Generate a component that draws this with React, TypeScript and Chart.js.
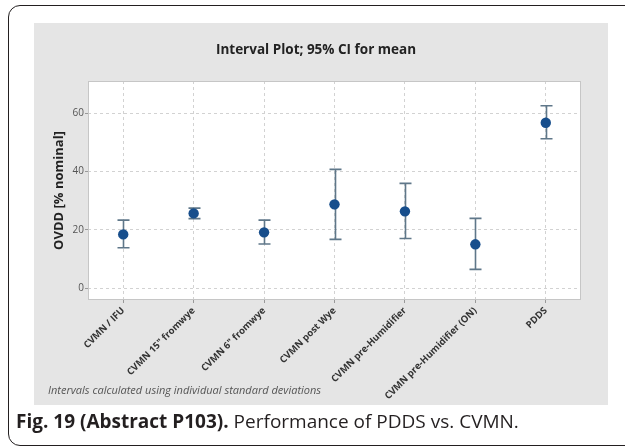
import React, { useEffect, useRef } from "react";
import { Chart, registerables } from "chart.js";

Chart.register(...registerables);

const categories = [
  "CVMN / IFU",
  'CVMN 15" fromwye',
  'CVMN 6" fromwye',
  "CVMN post Wye",
  "CVMN pre-Humidifier",
  "CVMN pre-Humidifier (ON)",
  "PDDS",
];
const means = [18.4, 25.6, 19.1, 28.7, 26.3, 15.0, 56.7];
const upper = [23.3, 27.4, 23.3, 40.7, 35.9, 23.9, 62.5];
const lower = [13.8, 23.8, 15.1, 16.7, 17.0, 6.4, 51.2];
const yTicks = [0, 20, 40, 60];

const FONT = "'Open Sans', 'Noto Sans', sans-serif";

const panelPlugin = {
  id: "panelPlugin",
  beforeDraw(chart: any) {
    const { ctx, chartArea: a } = chart;
    ctx.save();
    ctx.fillStyle = "#ffffff";
    ctx.fillRect(a.left, a.top, a.right - a.left, a.bottom - a.top);
    ctx.restore();
  },
  afterDraw(chart: any) {
    const { ctx, chartArea: a } = chart;
    ctx.save();
    ctx.strokeStyle = "#c6c6c6";
    ctx.lineWidth = 1;
    ctx.strokeRect(a.left + 0.5, a.top + 0.5, a.right - a.left - 1, a.bottom - a.top - 1);
    ctx.restore();
  },
};

const errorBarPlugin = {
  id: "errorBarPlugin",
  beforeDatasetsDraw(chart: any) {
    const { ctx } = chart;
    const xs = chart.scales.x;
    const ys = chart.scales.y;
    ctx.save();
    ctx.strokeStyle = "#5f7789";
    ctx.lineWidth = 1.6;
    for (let i = 0; i < categories.length; i++) {
      const px = Math.round(xs.getPixelForValue(i)) + 0.5;
      const yt = ys.getPixelForValue(upper[i]);
      const yb = ys.getPixelForValue(lower[i]);
      ctx.beginPath();
      ctx.moveTo(px, yt);
      ctx.lineTo(px, yb);
      ctx.moveTo(px - 6, yt);
      ctx.lineTo(px + 6, yt);
      ctx.moveTo(px - 6, yb);
      ctx.lineTo(px + 6, yb);
      ctx.stroke();
    }
    ctx.restore();
  },
};

function IntervalChart() {
  const ref = useRef<HTMLCanvasElement | null>(null);
  useEffect(() => {
    if (!ref.current) return;
    const chart = new Chart(ref.current, {
      type: "line",
      data: {
        labels: categories,
        datasets: [
          {
            data: means,
            showLine: false,
            pointRadius: 5.2,
            pointBackgroundColor: "#174e8c",
            pointBorderColor: "#174e8c",
            pointBorderWidth: 0,
          },
        ],
      },
      options: {
        animation: false,
        responsive: false,
        layout: { padding: { left: 17, right: 27, top: 0, bottom: 0 } },
        plugins: {
          legend: { display: false },
          tooltip: { enabled: false },
          title: {
            display: true,
            text: "Interval Plot; 95% CI for mean",
            color: "#222222",
            font: { family: FONT, size: 13.5, weight: "bold" },
            padding: { top: 18.9, bottom: 22.9 },
          },
        },
        scales: {
          x: {
            type: "category",
            offset: true,
            afterFit: (s: any) => {
              s.height = 105;
            },
            grid: {
              offset: false,
              color: "#d2d2d2",
              tickColor: "#999999",
              tickLength: 3,
              lineWidth: 1,
            },
            border: { display: false, dash: [3, 3] },
            ticks: {
              autoSkip: false,
              minRotation: 45,
              maxRotation: 45,
              padding: 2,
              color: "#333333",
              font: { family: FONT, size: 9.5, weight: "bold" },
            },
          },
          y: {
            type: "linear",
            min: -4.1,
            max: 71,
            afterBuildTicks: (s: any) => {
              s.ticks = yTicks.map((v) => ({ value: v }));
            },
            afterFit: (s: any) => {
              s.width = 37;
            },
            grid: {
              color: "#d2d2d2",
              tickColor: "#999999",
              tickLength: 3,
              lineWidth: 1,
            },
            border: { display: false, dash: [3, 3] },
            ticks: {
              padding: 1,
              color: "#555555",
              font: { family: FONT, size: 10 },
            },
            title: {
              display: true,
              text: "OVDD [% nominal]",
              color: "#222222",
              font: { family: FONT, size: 13, weight: "bold" },
              padding: 0,
            },
          },
        },
      },
      plugins: [panelPlugin, errorBarPlugin],
    } as any);
    return () => chart.destroy();
  }, []);
  return <canvas ref={ref} width={574} height={382} style={{ display: "block", width: 574, height: 382 }} />;
}

export default function App() {
  return (
    <div
      style={{
        position: "fixed",
        left: 0,
        top: 0,
        width: 625,
        height: 446,
        background: "#ffffff",
        overflow: "hidden",
        fontFamily: FONT,
      }}
    >
      <div
        style={{
          position: "absolute",
          left: 8,
          top: 5,
          width: 700,
          height: 439,
          border: "1.5px solid #231f20",
          borderRadius: 12,
        }}
      />
      <div
        style={{
          position: "absolute",
          left: 34,
          top: 23,
          width: 574,
          height: 382,
          background: "#e5e5e5",
        }}
      >
        <IntervalChart />
      </div>
      <div
        style={{
          position: "absolute",
          left: 48,
          top: 383,
          fontSize: 11,
          lineHeight: "14px",
          fontStyle: "italic",
          color: "#555555",
          whiteSpace: "nowrap",
        }}
      >
        Intervals calculated using individual standard deviations
      </div>
      <div
        style={{
          position: "absolute",
          left: 16,
          top: 409,
          fontSize: 19,
          lineHeight: "25px",
          color: "#231f20",
          whiteSpace: "nowrap",
        }}
      >
        <span style={{ fontWeight: 700 }}>Fig. 19 (Abstract P103).</span> Performance of PDDS vs. CVMN.
      </div>
    </div>
  );
}
